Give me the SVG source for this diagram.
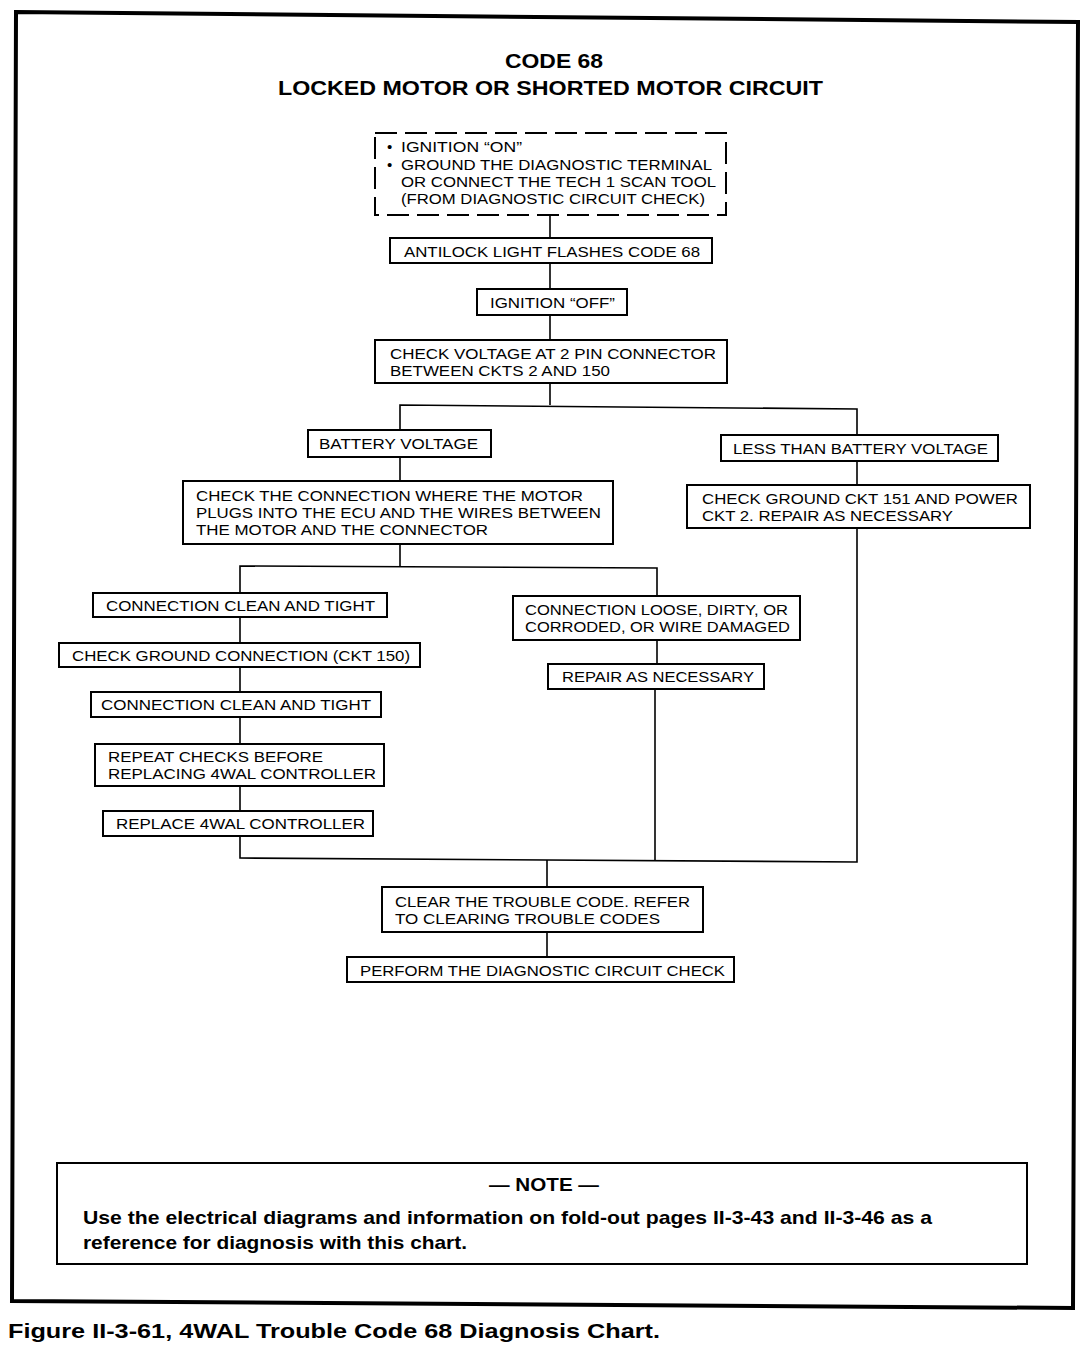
<svg xmlns="http://www.w3.org/2000/svg" width="1088" height="1360" viewBox="0 0 1088 1360">
<style>
.bx{fill:#fff;stroke:#000;stroke-width:2}
.dash{fill:#fff;stroke:#000;stroke-width:2;stroke-dasharray:22 8}
.t{font-family:"Liberation Sans",Arial,sans-serif;font-size:15px;fill:#000}
.ttl{font-family:"Liberation Sans",Arial,sans-serif;font-size:21px;font-weight:bold;fill:#000}
.note{font-family:"Liberation Sans",Arial,sans-serif;font-size:19px;font-weight:bold;fill:#000}
.cap{font-family:"Liberation Sans",Arial,sans-serif;font-size:21px;font-weight:bold;fill:#000}
.ln{fill:none;stroke:#000;stroke-width:1.6}
</style>
<rect x="0" y="0" width="1088" height="1360" fill="#fff"/>
<polygon points="16,12 1078,22 1073,1308 12,1301" fill="none" stroke="#000" stroke-width="4"/>

<g id="title">
<text class="ttl" x="505" y="68" textLength="98" lengthAdjust="spacingAndGlyphs">CODE 68</text>
<text class="ttl" x="278" y="95" textLength="545" lengthAdjust="spacingAndGlyphs">LOCKED MOTOR OR SHORTED MOTOR CIRCUIT</text>
</g>

<g id="connectors">
<line class="ln" x1="550" y1="215" x2="550" y2="238"/>
<line class="ln" x1="550" y1="263" x2="550" y2="289"/>
<line class="ln" x1="550" y1="315" x2="550" y2="340"/>
<polyline class="ln" points="550,383 550,405"/>
<polyline class="ln" points="400,430 400,405 857,409 857,435"/>
<line class="ln" x1="400" y1="457" x2="400" y2="481"/>
<line class="ln" x1="857" y1="461" x2="857" y2="485"/>
<line class="ln" x1="400" y1="544" x2="400" y2="566"/>
<polyline class="ln" points="240,593 240,566 657,568 657,596"/>
<line class="ln" x1="240" y1="617" x2="240" y2="643"/>
<line class="ln" x1="240" y1="667" x2="240" y2="692"/>
<line class="ln" x1="240" y1="717" x2="240" y2="744"/>
<line class="ln" x1="240" y1="786" x2="240" y2="811"/>
<line class="ln" x1="657" y1="640" x2="657" y2="664"/>
<polyline class="ln" points="240,836 240,858 857,862 857,528"/>
<line class="ln" x1="655" y1="689" x2="655" y2="861"/>
<line class="ln" x1="547" y1="860" x2="547" y2="887"/>
<line class="ln" x1="547" y1="932" x2="547" y2="957"/>
</g>

<g id="start">
<rect class="dash" x="375" y="133" width="351" height="82"/>
<text class="t" x="387" y="152">•</text>
<text class="t" x="401" y="152" textLength="121" lengthAdjust="spacingAndGlyphs">IGNITION “ON”</text>
<text class="t" x="387" y="170">•</text>
<text class="t" x="401" y="170" textLength="311" lengthAdjust="spacingAndGlyphs">GROUND THE DIAGNOSTIC TERMINAL</text>
<text class="t" x="401" y="187" textLength="315" lengthAdjust="spacingAndGlyphs">OR CONNECT THE TECH 1 SCAN TOOL</text>
<text class="t" x="401" y="204" textLength="304" lengthAdjust="spacingAndGlyphs">(FROM DIAGNOSTIC CIRCUIT CHECK)</text>
</g>

<g id="antilock">
<rect class="bx" x="390" y="238" width="322" height="25"/>
<text class="t" x="404" y="257" textLength="296" lengthAdjust="spacingAndGlyphs">ANTILOCK LIGHT FLASHES CODE 68</text>
</g>

<g id="ignoff">
<rect class="bx" x="477" y="289" width="150" height="26"/>
<text class="t" x="490" y="308" textLength="125" lengthAdjust="spacingAndGlyphs">IGNITION “OFF”</text>
</g>

<g id="checkvolt">
<rect class="bx" x="375" y="340" width="352" height="43"/>
<text class="t" x="390" y="359" textLength="326" lengthAdjust="spacingAndGlyphs">CHECK VOLTAGE AT 2 PIN CONNECTOR</text>
<text class="t" x="390" y="376" textLength="220" lengthAdjust="spacingAndGlyphs">BETWEEN CKTS 2 AND 150</text>
</g>

<g id="battvolt">
<rect class="bx" x="308" y="430" width="183" height="27"/>
<text class="t" x="319" y="449" textLength="159" lengthAdjust="spacingAndGlyphs">BATTERY VOLTAGE</text>
</g>

<g id="lessvolt">
<rect class="bx" x="721" y="435" width="277" height="26"/>
<text class="t" x="733" y="454" textLength="255" lengthAdjust="spacingAndGlyphs">LESS THAN BATTERY VOLTAGE</text>
</g>

<g id="checkconn">
<rect class="bx" x="183" y="481" width="430" height="63"/>
<text class="t" x="196" y="501" textLength="387" lengthAdjust="spacingAndGlyphs">CHECK THE CONNECTION WHERE THE MOTOR</text>
<text class="t" x="196" y="518" textLength="405" lengthAdjust="spacingAndGlyphs">PLUGS INTO THE ECU AND THE WIRES BETWEEN</text>
<text class="t" x="196" y="535" textLength="292" lengthAdjust="spacingAndGlyphs">THE MOTOR AND THE CONNECTOR</text>
</g>

<g id="checkgnd151">
<rect class="bx" x="687" y="485" width="343" height="43"/>
<text class="t" x="702" y="504" textLength="316" lengthAdjust="spacingAndGlyphs">CHECK GROUND CKT 151 AND POWER</text>
<text class="t" x="702" y="521" textLength="251" lengthAdjust="spacingAndGlyphs">CKT 2. REPAIR AS NECESSARY</text>
</g>

<g id="clean1">
<rect class="bx" x="93" y="593" width="294" height="24"/>
<text class="t" x="106" y="611" textLength="269" lengthAdjust="spacingAndGlyphs">CONNECTION CLEAN AND TIGHT</text>
</g>

<g id="loose">
<rect class="bx" x="513" y="596" width="287" height="44"/>
<text class="t" x="525" y="615" textLength="263" lengthAdjust="spacingAndGlyphs">CONNECTION LOOSE, DIRTY, OR</text>
<text class="t" x="525" y="632" textLength="265" lengthAdjust="spacingAndGlyphs">CORRODED, OR WIRE DAMAGED</text>
</g>

<g id="checkgnd150">
<rect class="bx" x="59" y="643" width="361" height="24"/>
<text class="t" x="72" y="661" textLength="338" lengthAdjust="spacingAndGlyphs">CHECK GROUND CONNECTION (CKT 150)</text>
</g>

<g id="repair">
<rect class="bx" x="548" y="664" width="216" height="25"/>
<text class="t" x="562" y="682" textLength="192" lengthAdjust="spacingAndGlyphs">REPAIR AS NECESSARY</text>
</g>

<g id="clean2">
<rect class="bx" x="91" y="692" width="290" height="25"/>
<text class="t" x="101" y="710" textLength="270" lengthAdjust="spacingAndGlyphs">CONNECTION CLEAN AND TIGHT</text>
</g>

<g id="repeat">
<rect class="bx" x="95" y="744" width="289" height="42"/>
<text class="t" x="108" y="762" textLength="215" lengthAdjust="spacingAndGlyphs">REPEAT CHECKS BEFORE</text>
<text class="t" x="108" y="779" textLength="268" lengthAdjust="spacingAndGlyphs">REPLACING 4WAL CONTROLLER</text>
</g>

<g id="replace">
<rect class="bx" x="103" y="811" width="270" height="25"/>
<text class="t" x="116" y="829" textLength="249" lengthAdjust="spacingAndGlyphs">REPLACE 4WAL CONTROLLER</text>
</g>

<g id="clear">
<rect class="bx" x="382" y="887" width="321" height="45"/>
<text class="t" x="395" y="907" textLength="295" lengthAdjust="spacingAndGlyphs">CLEAR THE TROUBLE CODE. REFER</text>
<text class="t" x="395" y="924" textLength="265" lengthAdjust="spacingAndGlyphs">TO CLEARING TROUBLE CODES</text>
</g>

<g id="perform">
<rect class="bx" x="347" y="957" width="387" height="25"/>
<text class="t" x="360" y="976" textLength="365" lengthAdjust="spacingAndGlyphs">PERFORM THE DIAGNOSTIC CIRCUIT CHECK</text>
</g>

<g id="notebox">
<rect class="bx" x="57" y="1163" width="970" height="101"/>
<text class="note" x="489" y="1191" textLength="110" lengthAdjust="spacingAndGlyphs">— NOTE —</text>
<text class="note" x="83" y="1224" textLength="849" lengthAdjust="spacingAndGlyphs">Use the electrical diagrams and information on fold-out pages II-3-43 and II-3-46 as a</text>
<text class="note" x="83" y="1249" textLength="384" lengthAdjust="spacingAndGlyphs">reference for diagnosis with this chart.</text>
</g>

<g id="caption">
<text class="cap" x="8" y="1338" textLength="652" lengthAdjust="spacingAndGlyphs">Figure II-3-61, 4WAL Trouble Code 68 Diagnosis Chart.</text>
</g>
</svg>
